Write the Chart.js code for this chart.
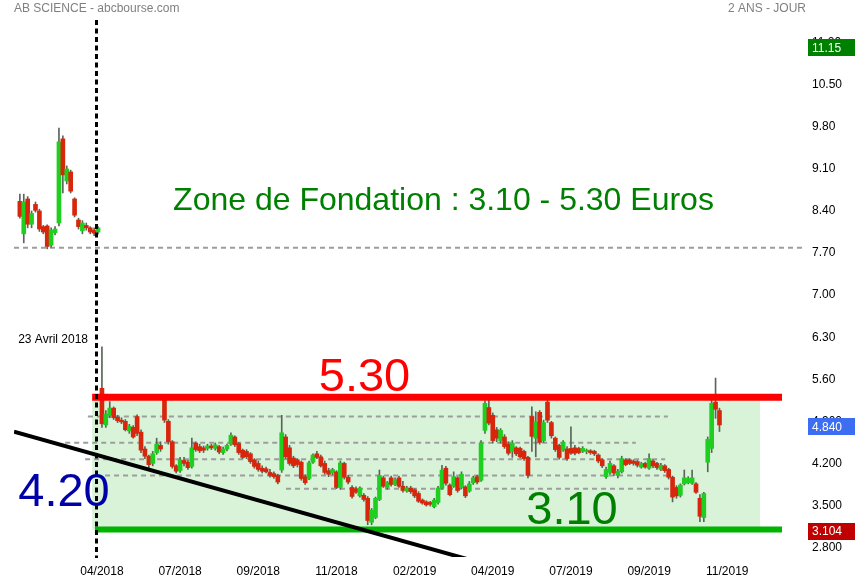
<!DOCTYPE html>
<html><head><meta charset="utf-8">
<script src="https://cdn.jsdelivr.net/npm/chart.js@4.4.1/dist/chart.umd.min.js"></script>
<style>html,body{margin:0;padding:0;background:#fff;}#wrap{width:855px;height:580px;position:relative;}</style>
</head><body><div id="wrap"><canvas id="c" width="855" height="580"></canvas></div>
<script>
// ---- DATA ----
const openP = [
8.56,8.02,8.60,8.18,8.51,8.40,8.14,8.15,7.83,8.04,
8.20,9.60,8.90,9.05,8.60,8.25,8.07,8.16,8.12,8.08,
8.05,5.45,4.84,5.00,5.12,4.97,4.92,4.90,4.74,4.80,
4.98,4.72,4.44,4.32,4.20,4.38,4.50,5.25,4.90,4.56,
4.16,4.08,4.25,4.22,4.15,4.54,4.48,4.46,4.45,4.49,
4.45,4.48,4.38,4.44,4.52,4.64,4.53,4.42,4.40,4.36,
4.26,4.20,4.12,4.11,4.05,4.03,4.00,4.09,4.64,4.46,
4.29,4.26,4.22,3.98,3.95,4.22,4.36,4.31,4.20,4.08,
4.04,4.06,3.80,4.20,3.97,3.80,3.78,3.66,3.67,3.62,
3.22,3.30,3.60,3.96,3.80,3.96,3.85,3.96,3.82,3.74,
3.79,3.76,3.70,3.59,3.56,3.55,3.48,3.55,3.79,4.12,
3.84,3.82,3.96,3.80,3.81,3.74,3.88,3.98,3.92,4.75,
5.13,5.00,4.76,4.58,4.64,4.52,4.40,4.46,4.45,4.40,
4.30,4.98,4.62,5.05,4.58,5.22,4.88,4.62,4.50,4.42,
4.44,4.45,4.46,4.45,4.40,4.40,4.41,4.40,4.34,4.26,
3.98,4.05,4.16,4.00,4.06,4.26,4.26,4.24,4.23,4.14,
4.20,4.12,4.24,4.20,4.10,4.16,4.10,3.97,3.80,3.67,
3.86,3.88,3.87,3.86,3.62,3.30,4.22,4.45,5.22,5.08];
const highP = [
8.68,8.68,8.64,8.40,8.55,8.43,8.16,8.17,8.12,8.14,
9.78,9.65,9.15,9.08,8.62,8.28,8.24,8.20,8.14,8.12,
8.14,6.14,5.08,5.23,5.14,5.00,4.96,4.93,4.85,4.83,
5.01,4.76,4.48,4.34,4.40,4.62,4.56,5.30,4.93,4.58,
4.18,4.30,4.30,4.25,4.62,4.56,4.52,4.49,4.52,4.52,
4.54,4.50,4.47,4.52,4.71,4.66,4.55,4.44,4.43,4.38,
4.28,4.24,4.16,4.14,4.10,4.06,4.02,5.00,4.68,4.50,
4.32,4.28,4.24,4.01,4.24,4.36,4.40,4.34,4.24,4.12,
4.12,4.08,4.24,4.22,4.00,3.83,3.81,3.81,3.70,3.65,
3.45,3.64,4.09,3.99,3.90,3.99,3.96,3.99,3.90,3.82,
3.82,3.78,3.73,3.61,3.58,3.57,3.62,3.82,4.17,4.15,
3.86,4.06,3.98,4.06,3.83,3.90,3.99,4.00,4.58,5.24,
5.26,5.04,4.80,4.78,4.68,4.56,4.58,4.48,4.47,4.42,
4.32,5.14,5.06,5.08,4.92,5.28,4.90,4.64,4.52,4.58,
4.48,4.81,4.50,4.47,4.48,4.44,4.43,4.42,4.36,4.28,
4.14,4.24,4.18,4.10,4.32,4.28,4.28,4.26,4.25,4.22,
4.22,4.36,4.26,4.22,4.20,4.18,4.12,3.99,3.83,3.86,
4.09,3.98,4.09,3.88,3.68,3.72,4.64,5.25,5.62,5.12];
const lowP = [
8.28,7.87,8.12,8.12,8.38,8.06,8.02,7.77,7.80,8.00,
8.15,8.70,8.85,8.70,8.30,8.10,8.02,8.08,8.02,7.99,
8.02,4.80,4.80,4.96,4.93,4.88,4.86,4.74,4.70,4.62,
4.66,4.38,4.28,4.12,4.16,4.35,4.40,4.88,4.52,4.12,
4.04,4.05,4.16,4.10,4.12,4.40,4.38,4.38,4.42,4.43,
4.42,4.36,4.35,4.41,4.50,4.48,4.35,4.28,4.28,4.20,
4.12,4.07,4.04,4.04,3.97,3.95,3.86,4.05,4.28,4.17,
4.13,4.14,3.92,3.85,3.93,4.20,4.28,4.14,4.02,3.98,
4.01,3.78,3.77,3.94,3.86,3.62,3.70,3.64,3.57,3.18,
3.18,3.28,3.58,3.80,3.77,3.82,3.83,3.80,3.72,3.72,
3.70,3.63,3.55,3.52,3.49,3.49,3.46,3.52,3.77,3.84,
3.66,3.80,3.72,3.78,3.63,3.72,3.85,3.86,3.90,4.70,
4.84,4.54,4.56,4.54,4.45,4.34,4.30,4.33,4.29,4.25,
3.96,4.40,4.31,4.52,4.55,4.88,4.62,4.40,4.27,4.40,
4.25,4.35,4.34,4.36,4.38,4.36,4.35,4.33,4.21,4.13,
3.95,4.02,4.00,3.96,4.04,4.16,4.18,4.17,4.14,4.12,
4.12,4.10,4.13,4.10,4.08,4.05,3.94,3.56,3.62,3.64,
3.84,3.86,3.85,3.70,3.23,3.23,4.06,4.38,4.95,4.73];
const closeP = [
8.31,8.55,8.18,8.36,8.41,8.10,8.05,7.81,8.08,8.10,
9.55,9.00,9.10,8.73,8.33,8.14,8.20,8.12,8.05,8.03,
8.12,4.86,5.02,5.12,4.96,4.91,4.89,4.76,4.82,4.64,
4.70,4.42,4.32,4.18,4.36,4.52,4.44,4.92,4.56,4.15,
4.07,4.26,4.20,4.13,4.46,4.43,4.41,4.42,4.49,4.46,
4.51,4.39,4.44,4.50,4.67,4.51,4.38,4.30,4.31,4.23,
4.15,4.10,4.07,4.06,4.00,3.98,3.89,4.71,4.31,4.20,
4.16,4.18,3.95,3.88,4.21,4.34,4.30,4.16,4.05,4.02,
4.10,3.80,4.21,3.97,3.89,3.65,3.72,3.79,3.60,3.25,
3.42,3.62,4.00,3.82,3.88,3.85,3.93,3.82,3.75,3.79,
3.73,3.66,3.57,3.54,3.51,3.52,3.59,3.79,4.09,3.87,
3.68,3.98,3.75,4.02,3.66,3.86,3.96,3.89,4.54,5.20,
4.87,4.58,4.62,4.75,4.48,4.37,4.54,4.36,4.31,4.28,
4.00,4.65,4.89,4.55,4.88,4.92,4.66,4.43,4.30,4.55,
4.28,4.37,4.37,4.38,4.45,4.42,4.38,4.36,4.24,4.16,
4.10,4.20,4.04,4.07,4.28,4.18,4.20,4.20,4.17,4.20,
4.14,4.28,4.16,4.13,4.17,4.08,3.97,3.64,3.66,3.84,
3.96,3.95,3.96,3.72,3.32,3.70,4.60,5.20,5.10,4.84];

const xTickIdx = [21,41,61,81,101,121,141,161,181];
const xTickLabels = ['04/2018','07/2018','09/2018','11/2018','02/2019','04/2019','07/2019','09/2019','11/2019'];
const yTickVals = [2.8,3.5,4.2,4.9,5.6,6.3,7.0,7.7,8.4,9.1,9.8,10.5,11.2];
const yTickLabels = ['2.800','3.500','4.200','4.900','5.60','6.30','7.00','7.70','8.40','9.10','9.80','10.50','11.20'];

const zoneLow = 3.10, zoneHigh = 5.30;
const zoneStartIdx = 18.5, zoneEndIdx = 189.4;
const resistStartIdx = 18.5, supportStartIdx = 19.2, levelEndIdx = 195;
const trendX = [-1.5, 120];
const trendY = [4.728, 2.507];
const dashLevels = [7.79, 4.98, 4.545, 4.27, 4.00, 3.78];
const dashStart  = [-1.5, 17.4, 11.6, 16.7, 21.8, 68.1];
const dashEnd    = [200.1, 165.8, 157.6, 165.1, 166.8, 168.1];
const eventIdx = 19.5;
const badgeValues = [11.15, 4.84, 3.104];
const badgeLabels = ['11.15', '4.840', '3.104'];

// ---- CHART ----
const FONT = '"Liberation Sans", Arial, sans-serif';
Chart.defaults.font.family = FONT;
const GREEN = '#1fcf1f', RED = '#d8260c', WICK = '#5a655a';
const idx = openP.map((_, i) => i);

const datasets = [];
dashLevels.forEach((v, k) => {
  datasets.push({type:'line', data:[{x:dashStart[k], y:v},{x:dashEnd[k], y:v}],
    borderColor:'#9d9d9d', borderWidth:2, borderDash:[5,4], pointRadius:0, order:10, clip:false});
});
datasets.push({type:'bar', data: idx.map(i => ({x:i, y:[lowP[i], highP[i]]})),
  backgroundColor: WICK, barThickness:1, grouped:false, order:6, borderWidth:0});
datasets.push({type:'bar', data: idx.map(i => ({x:i, y:[openP[i], closeP[i]]})),
  backgroundColor: c => closeP[c.dataIndex] >= openP[c.dataIndex] ? GREEN : RED,
  barThickness:4, minBarLength:1, grouped:false, order:5, borderWidth:0});
datasets.push({type:'line', data:[{x:resistStartIdx, y:zoneHigh},{x:levelEndIdx, y:zoneHigh}],
  borderColor:'#ff0000', borderWidth:7, pointRadius:0, order:2});
datasets.push({type:'line', data:[{x:supportStartIdx, y:zoneLow},{x:levelEndIdx, y:zoneLow}],
  borderColor:'#00b400', borderWidth:6, pointRadius:0, order:2});
datasets.push({type:'line', data:[{x:trendX[0], y:trendY[0]},{x:trendX[1], y:trendY[1]}],
  borderColor:'#000000', borderWidth:4, pointRadius:0, order:1});

const deco = {
  id:'deco',
  beforeDatasetsDraw(chart){
    const {ctx, scales:{x, y}} = chart;
    ctx.save();
    ctx.fillStyle = '#d9f3d9';
    const x0 = x.getPixelForValue(zoneStartIdx), x1 = x.getPixelForValue(zoneEndIdx);
    const y0 = y.getPixelForValue(zoneHigh), y1 = y.getPixelForValue(zoneLow);
    ctx.fillRect(x0, y0, x1 - x0, y1 - y0);
    ctx.restore();
  },
  afterDraw(chart){
    const {ctx, scales:{x, y}, chartArea} = chart;
    ctx.save();
    const ex = Math.round(x.getPixelForValue(eventIdx)) + 0.5;
    ctx.strokeStyle = '#000'; ctx.lineWidth = 3; ctx.setLineDash([5,3.5]);
    ctx.beginPath(); ctx.moveTo(ex, 20); ctx.lineTo(ex, chartArea.bottom + 1); ctx.stroke();
    ctx.setLineDash([]);
    ctx.font = '12px ' + FONT; ctx.fillStyle = '#808080'; ctx.textBaseline = 'middle';
    ctx.textAlign = 'left'; ctx.fillText('AB SCIENCE - abcbourse.com', 14, 9);
    ctx.textAlign = 'right'; ctx.fillText('2 ANS - JOUR', 806, 9);
    ctx.fillStyle = '#000'; ctx.textBaseline = 'alphabetic';
    ctx.fillText('23 Avril 2018', 88, 343);
    ctx.textAlign = 'center';
    ctx.font = '32px ' + FONT; ctx.fillStyle = '#008000';
    ctx.fillText('Zone de Fondation : 3.10 - 5.30 Euros', 443.5, 210);
    ctx.font = '47px ' + FONT; ctx.fillStyle = '#ff0000';
    ctx.fillText('5.30', 364.5, 391);
    ctx.fillStyle = '#0000a8'; ctx.fillText('4.20', 64, 506);
    ctx.fillStyle = '#008000'; ctx.fillText('3.10', 572, 524);
    const bcol = ['#008000', '#3d6ef2', '#c00000'];
    ctx.font = '12px ' + FONT; ctx.textAlign = 'left'; ctx.textBaseline = 'middle';
    badgeValues.forEach((v, k) => {
      const cy = y.getPixelForValue(v) + 2;
      ctx.fillStyle = bcol[k]; ctx.fillRect(808, Math.round(cy - 8.5), 47, 17);
      ctx.fillStyle = '#fff'; ctx.fillText(badgeLabels[k], 812, cy + 0.5);
    });
    ctx.restore();
  }
};

new Chart(document.getElementById('c'), {
  type:'bar',
  data:{datasets},
  options:{
    responsive:false, animation:false, devicePixelRatio:1,
    layout:{padding:{left:14, top:18, right:0, bottom:0}},
    plugins:{legend:{display:false}, tooltip:{enabled:false}},
    scales:{
      x:{type:'linear', min:-1.5, max:195, offset:false,
        grid:{display:false, drawTicks:false}, border:{display:false},
        afterBuildTicks: s => { s.ticks = xTickIdx.map(v => ({value:v})); },
        afterFit: s => { s.height = 23; },
        ticks:{autoSkip:false, maxRotation:0, padding:7, color:'#000', font:{size:12},
          callback:(v, i) => xTickLabels[i]}},
      y:{type:'linear', position:'right', min:2.643, max:11.611,
        grid:{display:false, drawTicks:true, tickLength:27}, border:{display:false},
        afterBuildTicks: s => { s.ticks = yTickVals.map(v => ({value:v})); },
        afterFit: s => { s.width = 73; },
        ticks:{padding:3, color:'#000', font:{size:12},
          callback:(v, i) => yTickLabels[i]}}
    }
  },
  plugins:[deco]
});
</script></body></html>
